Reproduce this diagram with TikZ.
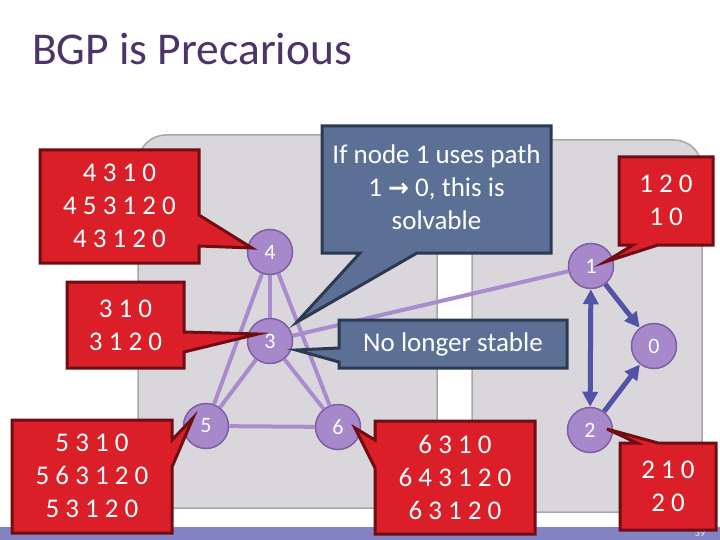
\documentclass[tikz,border=0pt]{standalone}
\usepackage{fontspec}
\setmainfont{Carlito}
\newfontfamily\dvs{DejaVu Sans}
\usetikzlibrary{arrows.meta,calc}
\definecolor{titlec}{HTML}{4B3468}
\definecolor{redf}{HTML}{DA1F28}
\definecolor{redd}{HTML}{6E0E14}
\definecolor{bluef}{HTML}{5C7096}
\definecolor{blued}{HTML}{2B3A52}
\definecolor{vtxf}{HTML}{A788CB}
\definecolor{vtxd}{HTML}{7E5FA3}
\definecolor{edgec}{HTML}{A98BCE}
\definecolor{arrc}{HTML}{5252A8}
\definecolor{panelf}{HTML}{DAD7DC}
\definecolor{paneld}{HTML}{A8A6AB}
\definecolor{barc}{HTML}{8383C3}
\tikzset{
  panel/.style={fill=panelf,draw=paneld,line width=1.5pt,rounded corners=28pt},
  vtx/.style={circle,minimum size=45pt,inner sep=0pt,fill=vtxf,draw=vtxd,line width=1.5pt,text=white,font=\fontsize{22}{24}\selectfont},
  edge/.style={draw=edgec,line width=4pt},
  barrow/.style={draw=arrc,line width=5pt,-{Triangle[length=15pt,width=15pt]}},
  redbox/.style={fill=redf,draw=redd,line width=3pt,line join=miter},
  bluebox/.style={fill=bluef,draw=blued,line width=3pt,line join=miter},
  ctext/.style={text=white,align=center,inner sep=0pt,font=\fontsize{27}{33}\selectfont},
}
\begin{document}
\begin{tikzpicture}[x=1pt,y=-1pt]
\useasboundingbox (0,0) rectangle (720,540);
\fill[white] (0,0) rectangle (720,540);
% title
\node[anchor=base west,inner sep=0pt,text=titlec,font=\fontsize{45.5}{50}\selectfont] (title) at (32,65) {BGP is Precarious};
% panels
\draw[panel] (138,135) rectangle (437,508);
\draw[panel] (472,140) rectangle (702,512);
% bottom bar
\fill[barc] (0,527) rectangle (720,540);
\node[inner sep=0pt,text=white!85!barc,font=\fontsize{10}{12}\selectfont] (pnum) at (700,533.5) {39};
% vertices
\node[vtx] (n4) at (270,252) {4};
\node[vtx] (n3) at (270,341) {3};
\node[vtx] (n5) at (206,426) {5};
\node[vtx] (n6) at (338,427) {6};
\node[vtx] (n1) at (591,266) {1};
\node[vtx] (n0) at (654,346) {0};
\node[vtx] (n2) at (590,430) {2};
% edges
\draw[edge] (n4) -- (n3);
\draw[edge] (n4) -- (n5);
\draw[edge] (n4) -- (n6);
\draw[edge] (n3) -- (n5);
\draw[edge] (n3) -- (n6);
\draw[edge] (n5) -- (n6);
\draw[edge] (n3) -- (n1);
% blue arrows
\draw[barrow] (n1) -- (n0);
\draw[barrow] (n2) -- (n0);
\draw[barrow,{Triangle[length=15pt,width=15pt]}-{Triangle[length=15pt,width=15pt]}] (n1) -- (n2);
% red callouts
\draw[redbox] (40,150) -- (199,150) -- (199,215) -- (252,248) -- (199,246) -- (199,263) -- (40,263) -- cycle;
\node[ctext] (ca) at (119.5,206) {4 3 1 0\\4 5 3 1 2 0\\4 3 1 2 0};
\draw[redbox] (67,282) -- (184,282) -- (184,332) -- (258,334) -- (184,352) -- (184,368) -- (67,368) -- cycle;
\node[ctext] (cb) at (125.5,325) {3 1 0\\3 1 2 0};
\draw[redbox] (12,420) -- (172,420) -- (172,440) -- (193,418) -- (172,467) -- (172,533) -- (12,533) -- cycle;
\node[ctext] (cc) at (92,476) {5 3 1 0\\5 6 3 1 2 0\\5 3 1 2 0};
\draw[redbox] (375,421) -- (535,421) -- (535,534) -- (375,534) -- (375,468) -- (355,428) -- (375,440) -- cycle;
\node[ctext] (cd) at (455,477) {6 3 1 0\\6 4 3 1 2 0\\6 3 1 2 0};
\draw[redbox] (620,443) -- (637,443) -- (607,429) -- (658,443) -- (716,443) -- (716,530) -- (620,530) -- cycle;
\node[ctext] (ce) at (668,486) {2 1 0\\2 0};
\draw[redbox] (619,157) -- (713,157) -- (713,245) -- (658,245) -- (605,262) -- (633,245) -- (619,245) -- cycle;
\node[ctext] (cf) at (666,200) {1 2 0\\1 0};
% blue callouts
\draw[bluebox] (322,126) -- (551,126) -- (551,253) -- (417,253) -- (297,322) -- (360,253) -- (322,253) -- cycle;
\node[ctext] (cg) at (436.5,187) {If node 1 uses path\\1 {\dvs\bfseries\fontsize{25}{33}\selectfont →} 0, this is\\solvable};
\draw[bluebox] (339,320) -- (567,320) -- (567,368) -- (339,368) -- (339,362) -- (296,350) -- (339,348) -- cycle;
\node[ctext] (ch) at (453,344) {No longer stable};
\end{tikzpicture}
\end{document}
